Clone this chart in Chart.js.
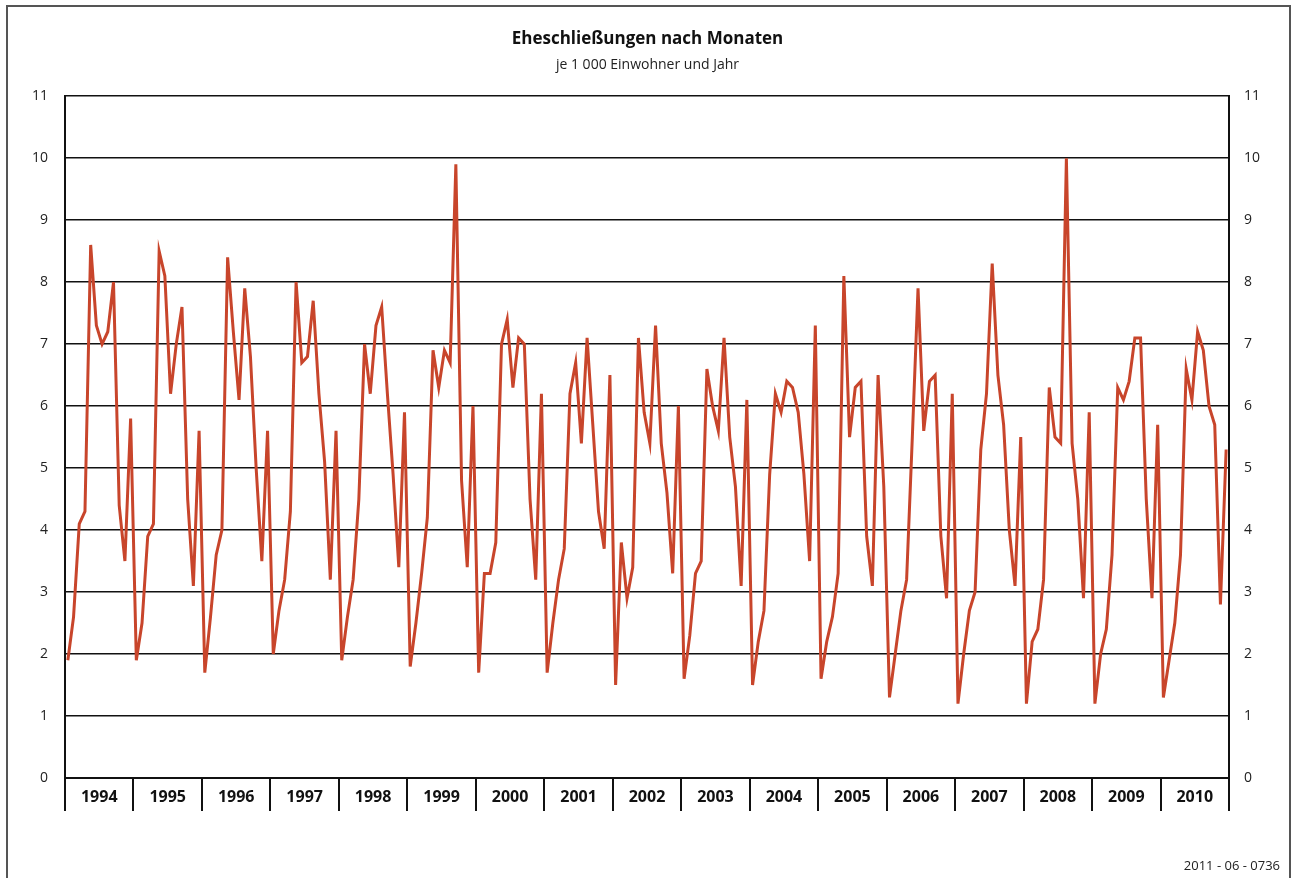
<!DOCTYPE html>
<html lang="de">
<head>
    <meta charset="UTF-8">
    <title>Eheschließungen nach Monaten</title>
    <style>
        html, body {margin: 0;
                    padding: 0;
                    background: #fff;}
        #box {width: 1295px;
              height: 878px;}
    </style>
    <script src="https://cdn.jsdelivr.net/npm/chart.js"></script>
</head>
<body>
    <div id="box"><canvas id="grafik" width="1295" height="878"></canvas></div>

    <script>
        // Jahre und Monatswerte (je 1 000 Einwohner und Jahr)
        const jahre = ['1994', '1995', '1996', '1997', '1998', '1999', '2000', '2001', '2002',
                       '2003', '2004', '2005', '2006', '2007', '2008', '2009', '2010'];
        const monate = ['Jan', 'Feb', 'Mär', 'Apr', 'Mai', 'Jun', 'Jul', 'Aug', 'Sep', 'Okt', 'Nov', 'Dez'];
        const yTicks = [0, 1, 2, 3, 4, 5, 6, 7, 8, 9, 10, 11];

        const w1994 = [1.9, 2.6, 4.1, 4.3, 8.6, 7.3, 7.0, 7.2, 8.0, 4.4, 3.5, 5.8];
        const w1995 = [1.9, 2.5, 3.9, 4.1, 8.5, 8.1, 6.2, 7.0, 7.6, 4.5, 3.1, 5.6];
        const w1996 = [1.7, 2.6, 3.6, 4.0, 8.4, 7.2, 6.1, 7.9, 6.8, 5.0, 3.5, 5.6];
        const w1997 = [2.0, 2.7, 3.2, 4.3, 8.0, 6.7, 6.8, 7.7, 6.2, 5.1, 3.2, 5.6];
        const w1998 = [1.9, 2.6, 3.2, 4.5, 7.0, 6.2, 7.3, 7.6, 6.2, 4.9, 3.4, 5.9];
        const w1999 = [1.8, 2.5, 3.3, 4.2, 6.9, 6.3, 6.9, 6.7, 9.9, 4.8, 3.4, 6.0];
        const w2000 = [1.7, 3.3, 3.3, 3.8, 7.0, 7.4, 6.3, 7.1, 7.0, 4.5, 3.2, 6.2];
        const w2001 = [1.7, 2.5, 3.2, 3.7, 6.2, 6.7, 5.4, 7.1, 5.7, 4.3, 3.7, 6.5];
        const w2002 = [1.5, 3.8, 2.9, 3.4, 7.1, 5.9, 5.4, 7.3, 5.4, 4.6, 3.3, 6.0];
        const w2003 = [1.6, 2.3, 3.3, 3.5, 6.6, 6.0, 5.6, 7.1, 5.5, 4.7, 3.1, 6.1];
        const w2004 = [1.5, 2.2, 2.7, 4.9, 6.2, 5.9, 6.4, 6.3, 5.9, 4.9, 3.5, 7.3];
        const w2005 = [1.6, 2.2, 2.6, 3.3, 8.1, 5.5, 6.3, 6.4, 3.9, 3.1, 6.5, 4.7];
        const w2006 = [1.3, 2.0, 2.7, 3.2, 5.5, 7.9, 5.6, 6.4, 6.5, 3.9, 2.9, 6.2];
        const w2007 = [1.2, 2.0, 2.7, 3.0, 5.3, 6.2, 8.3, 6.5, 5.7, 4.0, 3.1, 5.5];
        const w2008 = [1.2, 2.2, 2.4, 3.2, 6.3, 5.5, 5.4, 10.0, 5.4, 4.5, 2.9, 5.9];
        const w2009 = [1.2, 2.0, 2.4, 3.6, 6.3, 6.1, 6.4, 7.1, 7.1, 4.5, 2.9, 5.7];
        const w2010 = [1.3, 1.9, 2.5, 3.6, 6.6, 6.1, 7.2, 6.9, 6.0, 5.7, 2.8, 5.3];

        const alleWerte = [w1994, w1995, w1996, w1997, w1998, w1999, w2000, w2001, w2002,
                           w2003, w2004, w2005, w2006, w2007, w2008, w2009, w2010];

        const etiketten = [];
        const werte = [];
        jahre.forEach((jahr, i) => {
            monate.forEach((m, k) => {
                etiketten.push(m + ' ' + jahr);
                werte.push(alleWerte[i][k]);
            });
        });

        const schrift = "'Open Sans', 'DejaVu Sans', sans-serif";

        // Rahmen und Kennnummer unten rechts
        const rahmen = {
            id: 'rahmen',
            afterDraw(chart) {
                const c = chart.ctx;
                c.save();
                c.strokeStyle = '#555';
                c.lineWidth = 2;
                c.beginPath();
                c.moveTo(7, 900);
                c.lineTo(7, 6);
                c.lineTo(1290, 6);
                c.lineTo(1290, 900);
                c.stroke();
                c.fillStyle = '#222';
                c.font = "13px " + schrift;
                c.textAlign = 'right';
                c.textBaseline = 'middle';
                c.fillText('2011 - 06 - 0736', 1280, 866);
                c.restore();
            }
        };

        new Chart(document.getElementById('grafik'), {
            type: 'line',
            data: {
                labels: etiketten,
                datasets: [{
                    label: 'Eheschließungen',
                    data: werte,
                    borderColor: '#c8452b',
                    borderWidth: 3,
                    pointRadius: 0,
                    tension: 0,
                    xAxisID: 'x',
                    yAxisID: 'y'}]},
            options: {
                responsive: false,
                animation: false,
                layout: {padding: {left: 8, right: 8, top: 0, bottom: 0}},
                plugins: {
                    legend: {display: false},
                    tooltip: {enabled: false},
                    title: {
                        display: true,
                        text: 'Eheschließungen nach Monaten',
                        color: '#111',
                        font: {family: schrift, size: 17, weight: 'bold'},
                        padding: {top: 29, bottom: 7}},
                    subtitle: {
                        display: true,
                        text: 'je 1 000 Einwohner und Jahr',
                        color: '#222',
                        font: {family: schrift, size: 14},
                        padding: {top: 0, bottom: 23}}},
                scales: {
                    x: {
                        type: 'category',
                        display: false,
                        offset: true},
                    jahr: {
                        type: 'category',
                        labels: jahre,
                        position: 'bottom',
                        offset: true,
                        grid: {offset: true, drawOnChartArea: false, drawTicks: true,
                               tickLength: 33, color: '#111', lineWidth: 2},
                        border: {display: true, color: '#111', width: 2},
                        ticks: {color: '#111', padding: -23, maxRotation: 0, autoSkip: false,
                                font: {family: schrift, size: 16, weight: 'bold'}},
                        afterFit: s => { s.height = 100; }},
                    y: {
                        position: 'left',
                        min: 0, max: 11,
                        afterBuildTicks: s => { s.ticks = yTicks.map(v => ({value: v})); },
                        grid: {color: '#111', lineWidth: 1.5, drawTicks: false},
                        border: {display: true, color: '#111', width: 2},
                        ticks: {color: '#222', padding: 17, font: {family: schrift, size: 14}},
                        afterFit: s => { s.width = 57; }},
                    y2: {
                        position: 'right',
                        min: 0, max: 11,
                        afterBuildTicks: s => { s.ticks = yTicks.map(v => ({value: v})); },
                        grid: {drawOnChartArea: false, drawTicks: false},
                        border: {display: true, color: '#111', width: 2},
                        ticks: {color: '#222', padding: 15, font: {family: schrift, size: 14}},
                        afterFit: s => { s.width = 58; }}}},
            plugins: [rahmen]
        });
    </script>
</body>
</html>
